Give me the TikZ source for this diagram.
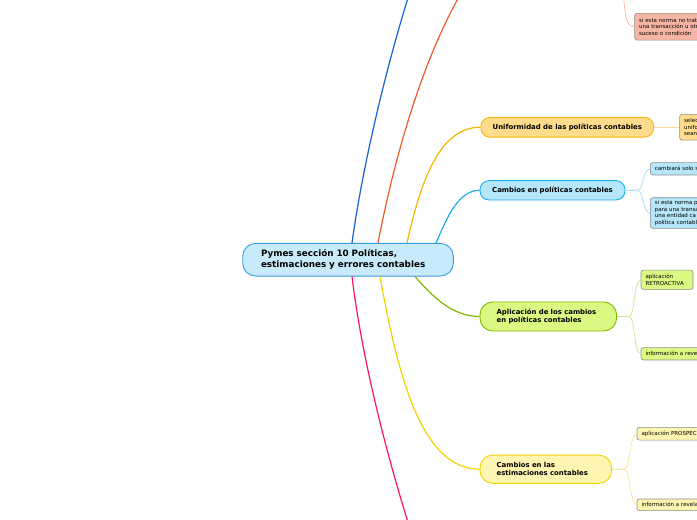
\documentclass[tikz,border=0pt]{standalone}
\usepackage{fontspec}
\setmainfont{DejaVu Sans}
\usetikzlibrary{calc}
\definecolor{cenF}{HTML}{C8EBFB}
\definecolor{cenB}{HTML}{3A9BDC}
\definecolor{eBlue}{HTML}{1562D6}
\definecolor{eRed}{HTML}{F25A2A}
\definecolor{eOrange}{HTML}{F7B500}
\definecolor{eCyan}{HTML}{1BAEEF}
\definecolor{eGreen}{HTML}{80B800}
\definecolor{eYellow}{HTML}{F0D400}
\definecolor{ePink}{HTML}{FF1070}
\definecolor{unifF}{HTML}{FFDC8C}
\definecolor{cpolF}{HTML}{B5E6FA}
\definecolor{aplF}{HTML}{DAF982}
\definecolor{estF}{HTML}{FFF5B2}
\definecolor{salF}{HTML}{F7B6A5}
\definecolor{lOrange}{HTML}{FFD890}
\definecolor{lCyan}{HTML}{A6DDF6}
\definecolor{lGreen}{HTML}{C9E690}
\definecolor{lYellow}{HTML}{F5E78C}
\definecolor{lSalmon}{HTML}{F8B6A4}
\begin{document}
\begin{tikzpicture}[x=1pt,y=-1pt,
  mainnode/.style={draw=cenB, fill=cenF, line width=0.9pt, rounded corners=13pt,
    minimum width=210.6pt, minimum height=32.7pt, inner xsep=18.3pt, inner ysep=0pt,
    text width=174pt, align=left, font=\fontsize{8.8}{11}\selectfont\bfseries},
  branch/.style={line width=0.9pt, inner ysep=0pt, font=\fontsize{6.9}{8.4}\selectfont\bfseries},
  onebranch/.style={branch, rounded corners=9pt, align=center, inner xsep=0pt},
  twobranch/.style={branch, rounded corners=13pt, align=left, inner xsep=16.7pt},
  childbox/.style={draw=black!45, line width=0.6pt, rounded corners=2.5pt, anchor=west,
    inner xsep=4.5pt, inner ysep=0pt, align=left, font=\fontsize{5.5}{6.7}\selectfont},
  mainedge/.style={line width=1.2pt},
  subedge/.style={line width=0.7pt}
]
\useasboundingbox (0,0) rectangle (697,520);
\clip (0,0) rectangle (697,520);

% nodes
\node[mainnode] (c) at (348,259.7) {Pymes sección 10 Políticas,\\estimaciones y errores contables};
\node[onebranch, draw=eOrange, fill=unifF, minimum width=172.7pt, minimum height=19.7pt] (unif) at (567.3,127.2) {Uniformidad de las políticas contables};
\node[onebranch, draw=eCyan, fill=cpolF, minimum width=145pt, minimum height=19.3pt] (cpol) at (552.5,190.3) {Cambios en políticas contables};
\node[twobranch, draw=eGreen, fill=aplF, minimum width=136.7pt, text width=103.3pt, minimum height=29pt] (apl) at (548.3,316.5) {Aplicación de los cambios\\en políticas contables};
\node[twobranch, draw=eYellow, fill=estF, minimum width=131.7pt, text width=98.3pt, minimum height=28.3pt] (est) at (545.8,469.2) {Cambios en las\\estimaciones contables};

% children
\node[childbox, fill=salF, minimum width=86pt, text width=77pt, minimum height=26.7pt] (sal) at (634.3,26.7) {si esta norma no trat\\una transacción u otr\\suceso o condición};
\node[childbox, fill=unifF, minimum width=60pt, text width=51pt, minimum height=25.7pt] (uc) at (679.3,127.2) {selec\\unifo\\sean};
\node[childbox, fill=cpolF, minimum width=70pt, text width=61pt, minimum height=12.3pt] (cc1) at (650,168.8) {cambiará solo s};
\node[childbox, fill=cpolF, minimum width=70pt, text width=61pt, minimum height=30.6pt] (cc2) at (650,213) {si esta norma p\\para una transa\\una entidad ca\\política contabl};
\node[childbox, fill=aplF, minimum width=52pt, text width=43pt, minimum height=19.3pt] (ac1) at (640.7,279.7) {aplicación\\RETROACTIVA};
\node[childbox, fill=aplF, minimum width=75pt, text width=66pt, minimum height=12.3pt] (ac2) at (640.7,353.8) {información a reve};
\node[childbox, fill=estF, minimum width=75pt, text width=66pt, minimum height=12.7pt] (ec1) at (636.7,433.7) {aplicación PROSPEC};
\node[childbox, fill=estF, minimum width=75pt, text width=66pt, minimum height=11.7pt] (ec2) at (636.7,504.8) {información a revela};

% free ends
\coordinate (topBlue) at (412,-15);
\coordinate (topRed) at (466,-15);
\coordinate (botPink) at (412,535);
\coordinate (topSal) at (623.5,-5);

% main edges
\draw[mainedge, eBlue] ([xshift=4pt]c.north) .. controls (362,170) and (385,70) .. (topBlue);
\draw[mainedge, eRed] ([xshift=30pt]c.north) .. controls (392,170) and (420,60) .. (topRed);
\draw[mainedge, eOrange] ([xshift=59pt]c.north) .. controls (420,185) and (438,127.2) .. (unif.west);
\draw[mainedge, eCyan] ([xshift=88pt]c.north) .. controls (447,218) and (458,190.3) .. (cpol.west);
\draw[mainedge, eGreen] ([xshift=67pt]c.south) .. controls (432,296) and (452,316.5) .. (apl.west);
\draw[mainedge, eYellow] ([xshift=32pt]c.south) .. controls (397,370) and (420,469.2) .. (est.west);
\draw[mainedge, ePink] ([xshift=4pt]c.south) .. controls (362,360) and (388,460) .. (botPink);

% sub edges
\draw[subedge, lSalmon] (topSal) .. controls (625,18) and (627,26.7) .. (sal.west);
\draw[subedge, lOrange] (unif.east) -- (uc.west);
\draw[subedge, lCyan] (cpol.east) -- ++(12,0) .. controls +(6,0) and +(-7,0) .. (cc1.west);
\draw[subedge, lCyan] (cpol.east) -- ++(12,0) .. controls +(6,0) and +(-7,0) .. (cc2.west);
\draw[subedge, lGreen] (apl.east) -- ++(12,0) .. controls +(6,0) and +(-7,0) .. (ac1.west);
\draw[subedge, lGreen] (apl.east) -- ++(12,0) .. controls +(6,0) and +(-7,0) .. (ac2.west);
\draw[subedge, lYellow] (est.east) -- ++(12,0) .. controls +(6,0) and +(-7,0) .. (ec1.west);
\draw[subedge, lYellow] (est.east) -- ++(12,0) .. controls +(6,0) and +(-7,0) .. (ec2.west);
\end{tikzpicture}
\end{document}
